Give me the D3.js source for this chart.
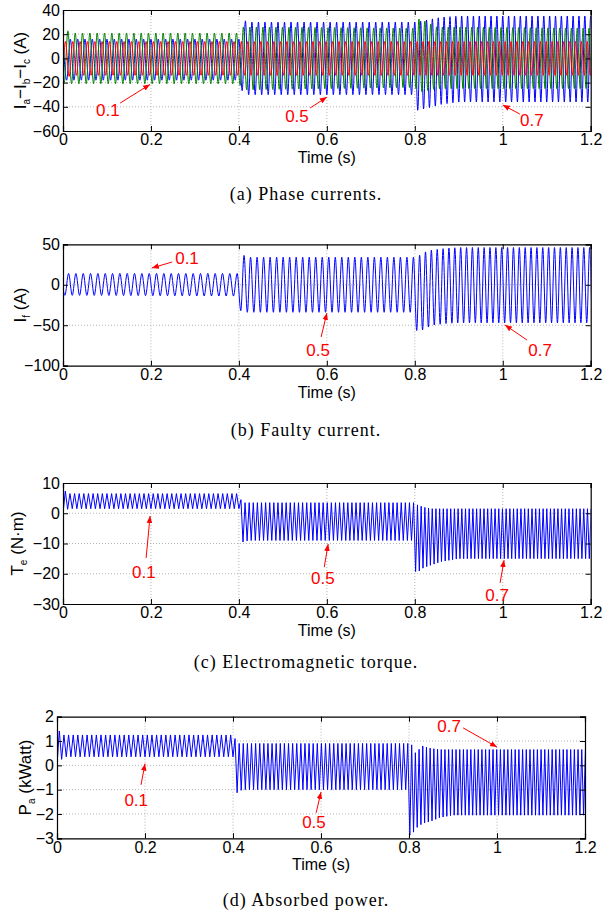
<!DOCTYPE html>
<html>
<head>
<meta charset="utf-8">
<script src="https://cdn.jsdelivr.net/npm/d3@7"></script>
<style>
  body { margin: 0; background: #fff; }
  svg text { font-family: 'Liberation Sans', Arial, sans-serif; }
  svg text.caption { font-family: 'Liberation Serif', 'DejaVu Serif', serif; letter-spacing: 1px; }
</style>
</head>
<body>
<script>
// time axis and segment frequencies (counted from the peaks)
const timeTicks = [0, 0.2, 0.4, 0.6, 0.8, 1, 1.2];
const currentHz = [60, 67.5, 75];
const rippleHz = [95, 107, 119];

// envelopes: [time, upper, lower]
const iaEnv = [[0, 16, -18], [0.4, 16, -18], [0.405, 33, -26], [0.42, 30, -30], [0.8, 30, -30],
  [0.805, 30, -43], [0.83, 32, -41], [0.86, 34, -38], [0.9, 35, -36], [1.2, 35, -36]];
const ibEnv = [[0, 25, -20], [0.02, 21, -21], [0.4, 21, -21], [0.41, 26, -26], [0.8, 25, -24],
  [0.81, 33, -28], [0.85, 26, -25], [1.2, 25, -25]];
const icEnv = [[0, 14, -17], [0.02, 14, -14], [1.2, 14, -14]];
const ifEnv = [[0, 14, -13], [0.4, 14, -14], [0.401, 14, -22], [0.405, 38, -34], [0.42, 34, -34],
  [0.8, 34, -34], [0.805, 34, -60], [0.82, 40, -55], [0.84, 43, -50], [0.87, 45, -48],
  [0.9, 46, -47], [1.2, 46, -47]];
const teEnv = [[0, 8, 0], [0.012, 6.5, 1.5], [0.4, 6.5, 1.5], [0.402, 5, -4], [0.41, 3.5, -10],
  [0.42, 3.5, -9], [0.8, 3.5, -9], [0.802, 3, -20], [0.82, 2, -18], [0.84, 1.5, -17],
  [0.86, 1.5, -16], [0.9, 1.5, -15], [1.2, 1.5, -15]];
const paEnv = [[0, 1.5, 0], [0.015, 1.25, 0.35], [0.4, 1.25, 0.35], [0.402, 1.2, -0.3],
  [0.41, 0.9, -1.2], [0.42, 0.9, -1.0], [0.8, 0.9, -1.0], [0.802, 1.0, -3.0], [0.815, 0.5, -2.6],
  [0.83, 0.8, -2.4], [0.85, 0.7, -2.3], [0.87, 0.65, -2.15], [0.9, 0.65, -2.05], [1.2, 0.65, -2.05]];

// annotations: [label, text t, text v, tail t, tail v, tip t, tip v]
const notesA = [['0.1', 0.102, -42.6, 0.13, -36.9, 0.198, -21.5],
  ['0.5', 0.532, -47.6, 0.562, -41, 0.6, -32],
  ['0.7', 1.066, -50.9, 1.039, -46, 1.0, -38.5]];
const notesB = [['0.1', 0.282, 33.1, 0.248, 28.1, 0.202, 20.7],
  ['0.5', 0.58, -80.6, 0.587, -64.5, 0.6, -35],
  ['0.7', 1.085, -80.6, 1.055, -68.2, 1.005, -49.7]];
const notesC = [['0.1', 0.184, -19.4, 0.189, -14.8, 0.198, -0.9],
  ['0.5', 0.591, -21.4, 0.594, -17.8, 0.603, -10.2],
  ['0.7', 0.987, -27, 0.994, -23, 1.003, -15.5]];
const notesD = [['0.1', 0.18, -1.43, 0.191, -0.8, 0.2, 0.07],
  ['0.5', 0.584, -2.33, 0.589, -1.95, 0.6, -1.1],
  ['0.7', 0.891, 1.62, 0.923, 1.54, 1.0, 0.75]];

const envAt = (env, t) => {
  let i = 0;
  while (i < env.length - 2 && t > env[i + 1][0]) i++;
  const a = env[i], b = env[i + 1];
  const k = Math.max(0, Math.min(1, (t - a[0]) / (b[0] - a[0])));
  return [a[1] + k * (b[1] - a[1]), a[2] + k * (b[2] - a[2])];
};
const hzAt = (hz, t) => hz[t >= 0.8 ? 2 : t >= 0.4 ? 1 : 0];

// alternating peaks and troughs, half a period apart
const extremes = (env, hz, lag) => {
  const pts = [];
  let t = -lag, k = 0;
  while (t < 1.22) {
    const e = envAt(env, Math.max(0, t));
    pts.push([t, k % 2 ? e[1] : e[0]]);
    t += 1 / (2 * hzAt(hz, Math.max(0, t)));
    k++;
  }
  return pts;
};

const W = 609, H = 917;
const svg = d3.select('body').append('svg').attr('width', W).attr('height', H);

const defs = svg.append('defs');
defs.append('marker')
  .attr('id', 'arrow')
  .attr('viewBox', '0 0 10 10')
  .attr('refX', 10).attr('refY', 5)
  .attr('markerWidth', 7).attr('markerHeight', 7)
  .attr('markerUnits', 'userSpaceOnUse')
  .attr('orient', 'auto')
  .append('path').attr('d', 'M0,1L10,5L0,9Z').attr('fill', '#ff0000');

const panels = [
  { top: 10, bottom: 131, left: 63, right: 590.7, domain: [-60, 40], ticks: [-60, -40, -20, 0, 20, 40],
    label: [['I', ''], ['a', 'sub'], ['\u2212I', ''], ['b', 'sub'], ['\u2212I', ''], ['c', 'sub'], [' (A)', '']],
    labelX: 20, caption: '(a)  Phase currents.', capY: 194, notes: notesA,
    series: [
      { data: extremes(iaEnv, currentHz, 0), color: '#0000ff', curve: d3.curveMonotoneX },
      { data: extremes(ibEnv, currentHz, 1 / 180), color: '#008000', curve: d3.curveMonotoneX },
      { data: extremes(icEnv, currentHz, 2 / 180), color: '#ff0000', curve: d3.curveMonotoneX },
    ] },
  { top: 244.3, bottom: 365.7, left: 63, right: 590.7, domain: [-100, 50], ticks: [-100, -50, 0, 50],
    label: [['I', ''], ['f', 'sub'], [' (A)', '']],
    labelX: 20, caption: '(b)  Faulty current.', capY: 430, notes: notesB,
    series: [{ data: extremes(ifEnv, currentHz, 0.004), color: '#0000ff', curve: d3.curveMonotoneX }] },
  { top: 483, bottom: 604, left: 63, right: 590.7, domain: [-30, 10], ticks: [-30, -20, -10, 0, 10],
    label: [['T', ''], ['e', 'sub'], ['  (N\u00b7m)', '']],
    labelX: 17, caption: '(c)  Electromagnetic torque.', capY: 662, notes: notesC,
    series: [{ data: extremes(teEnv, rippleHz, 1 / 190), color: '#0000ff', curve: d3.curveLinear }] },
  { top: 716.7, bottom: 838.3, left: 57, right: 585, domain: [-3, 2], ticks: [-3, -2, -1, 0, 1, 2],
    label: [['P', ''], ['a', 'sub'], ['  (kWatt)', '']],
    labelX: 25, caption: '(d)  Absorbed power.', capY: 900, notes: notesD,
    series: [{ data: extremes(paEnv, rippleHz, 1 / 190), color: '#0000ff', curve: d3.curveLinear }] },
];

panels.forEach((p, idx) => {
  const x = d3.scaleLinear().domain([0, 1.2]).range([p.left, p.right]);
  const y = d3.scaleLinear().domain(p.domain).range([p.bottom, p.top]);
  const g = svg.append('g');

  // dotted grid
  g.append('g')
    .selectAll('line')
    .data(timeTicks.slice(1, -1))
    .enter()
    .append('line')
    .attr('x1', (d) => x(d)).attr('x2', (d) => x(d))
    .attr('y1', p.top).attr('y2', p.bottom)
    .attr('stroke', '#b4b4b4').attr('stroke-dasharray', '1,2');
  g.append('g')
    .selectAll('line')
    .data(p.ticks.slice(1, -1))
    .enter()
    .append('line')
    .attr('x1', p.left).attr('x2', p.right)
    .attr('y1', (d) => y(d)).attr('y2', (d) => y(d))
    .attr('stroke', '#b4b4b4').attr('stroke-dasharray', '1,2');

  // signals
  const clipId = 'clip' + idx;
  defs.append('clipPath').attr('id', clipId)
    .append('rect')
    .attr('x', p.left).attr('y', p.top)
    .attr('width', p.right - p.left).attr('height', p.bottom - p.top);
  const line = d3.line().x((d) => x(d[0])).y((d) => y(d[1]));
  p.series.forEach((s) => {
    g.append('path')
      .datum(s.data)
      .attr('clip-path', `url(#${clipId})`)
      .attr('fill', 'none')
      .attr('stroke', s.color)
      .attr('stroke-width', 1)
      .attr('d', line.curve(s.curve));
  });

  // axes box with inward ticks on every side
  const tl = 5;
  const axB = d3.axisBottom(x).tickValues(timeTicks).tickSize(-tl).tickPadding(3)
    .tickFormat((d) => d3.format('~g')(d));
  const axT = d3.axisTop(x).tickValues(timeTicks).tickSize(-tl).tickFormat('');
  const axL = d3.axisLeft(y).tickValues(p.ticks).tickSize(-tl).tickPadding(3)
    .tickFormat((d) => (d < 0 ? '\u2212' + Math.abs(d) : d));
  const axR = d3.axisRight(y).tickValues(p.ticks).tickSize(-tl).tickFormat('');
  [
    [axB, `translate(0,${p.bottom})`],
    [axT, `translate(0,${p.top})`],
    [axL, `translate(${p.left},0)`],
    [axR, `translate(${p.right},0)`],
  ].forEach(([ax, tr]) => {
    const a = g.append('g').attr('transform', tr).call(ax);
    a.select('.domain').attr('stroke', '#000').attr('stroke-width', 1.2);
    a.selectAll('.tick line').attr('stroke', '#000');
    a.selectAll('.tick text').attr('font-size', 16).attr('fill', '#000')
      .attr('font-family', "'Liberation Sans', Arial, sans-serif");
  });

  // axis labels
  g.append('text')
    .attr('x', x(0.6)).attr('y', p.bottom + 32)
    .attr('text-anchor', 'middle')
    .attr('font-size', 16)
    .text('Time (s)');
  const yl = g.append('text')
    .attr('transform', `translate(${p.labelX},${(p.top + p.bottom) / 2})rotate(-90)`)
    .attr('text-anchor', 'middle')
    .attr('dy', '0.35em')
    .attr('font-size', 17);
  p.label.forEach(([t, kind], i) => {
    const ts = yl.append('tspan').text(t);
    if (kind === 'sub') ts.attr('font-size', 10).attr('dy', 4);
    else if (i > 0) ts.attr('dy', -4);
  });

  // red annotations
  p.notes.forEach(([label, tx, tv, ax0, av0, ax1, av1]) => {
    g.append('line')
      .attr('x1', x(ax0)).attr('y1', y(av0))
      .attr('x2', x(ax1)).attr('y2', y(av1))
      .attr('stroke', '#ff0000').attr('stroke-width', 1)
      .attr('marker-end', 'url(#arrow)');
    g.append('text')
      .attr('x', x(tx)).attr('y', y(tv))
      .attr('dy', '0.35em')
      .attr('text-anchor', 'middle')
      .attr('font-size', 17)
      .attr('fill', '#ff0000')
      .text(label);
  });

  svg.append('text')
    .attr('class', 'caption')
    .attr('x', 306).attr('y', p.capY)
    .attr('text-anchor', 'middle')
    .attr('dy', '0.35em')
    .attr('font-size', 18)
    .text(p.caption);
});
</script>
</body>
</html>
